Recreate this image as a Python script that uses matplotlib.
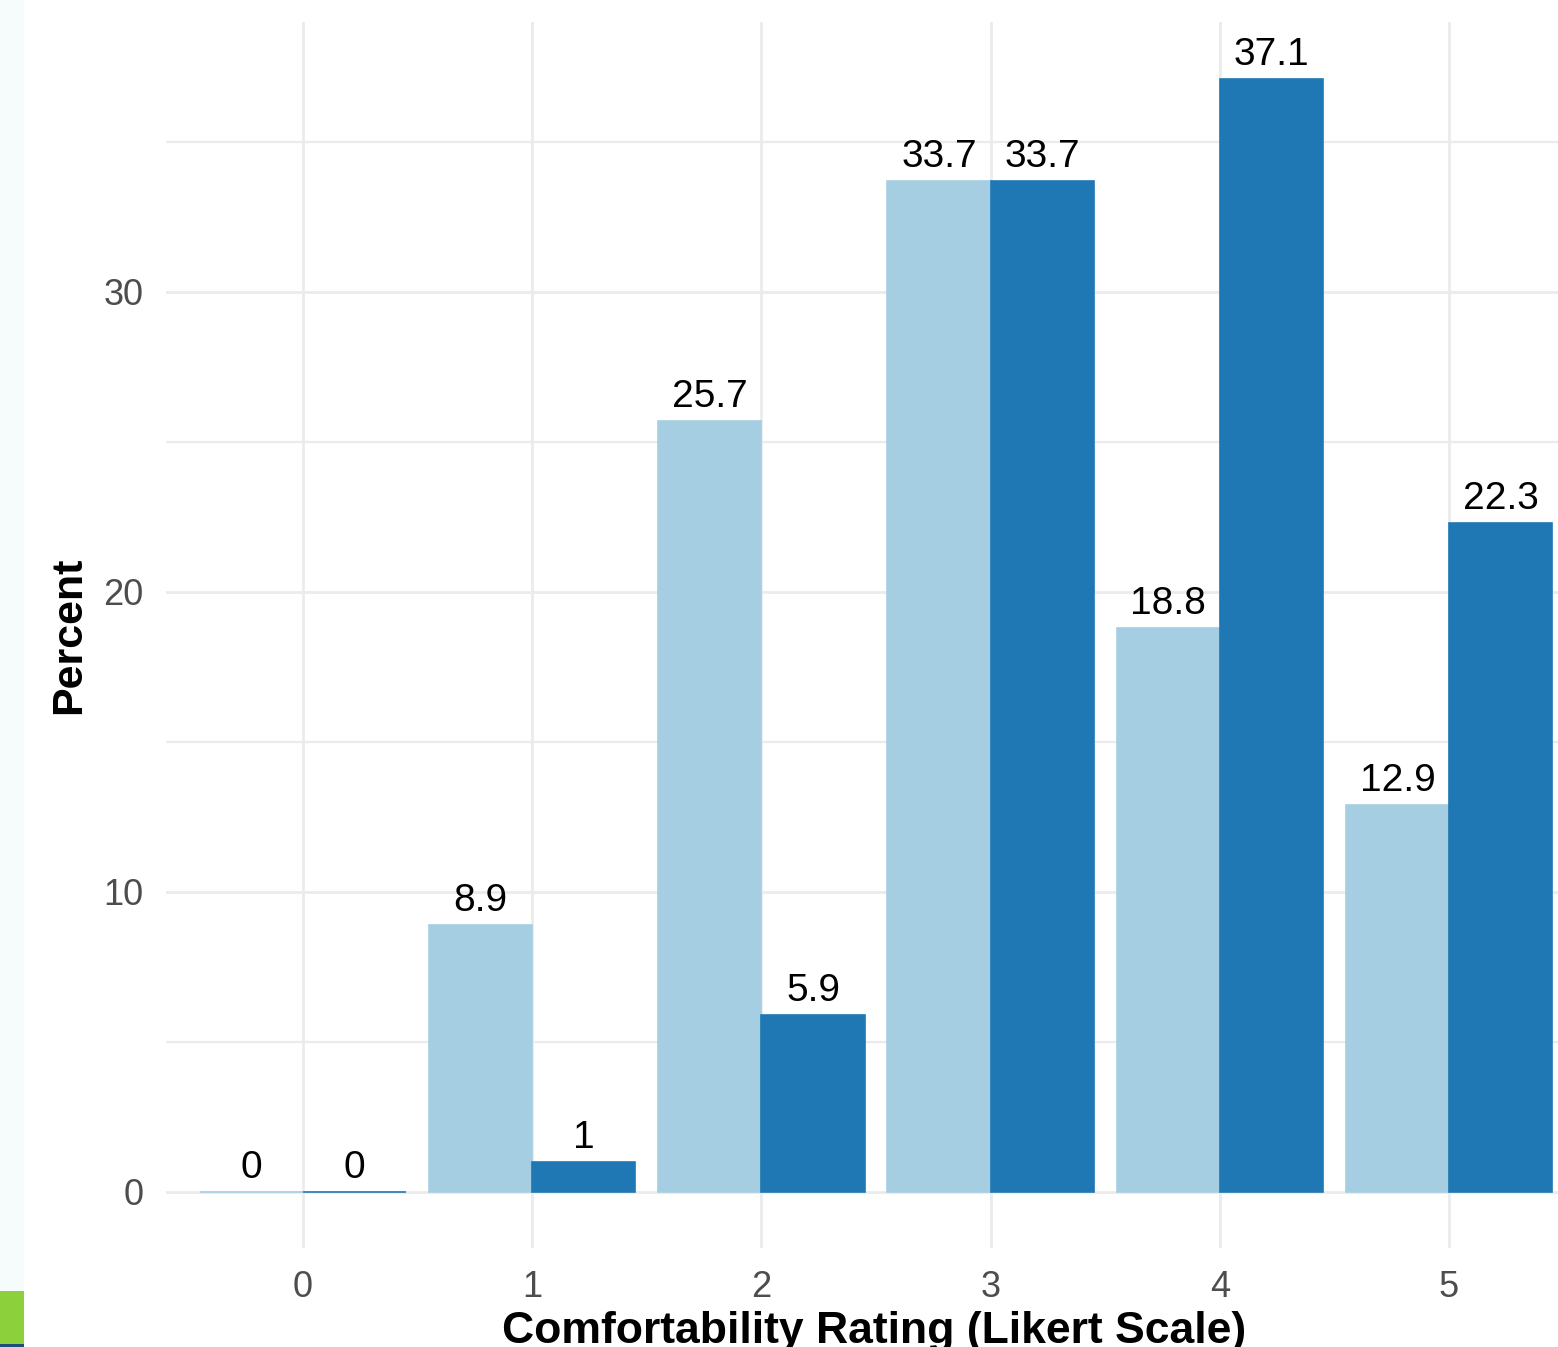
import matplotlib
matplotlib.use("Agg")
import matplotlib.pyplot as plt
from matplotlib.patches import Rectangle
import numpy as np

plt.rcParams['font.family'] = ['Liberation Sans', 'DejaVu Sans']

ratings = [0, 1, 2, 3, 4, 5]
series_a = [0, 8.9, 25.7, 33.7, 18.8, 12.9]
series_b = [0, 1, 5.9, 33.7, 37.1, 22.3]
labels_a = ["0", "8.9", "25.7", "33.7", "18.8", "12.9"]
labels_b = ["0", "1", "5.9", "33.7", "37.1", "22.3"]
yticks = [0, 10, 20, 30]
xlabel = "Comfortability Rating (Likert Scale)"
ylabel = "Percent"

color_a = "#A6CEE3"
color_b = "#1F78B4"
grid_c = "#EBEBEB"

W, H = 1558, 1347
fig = plt.figure(figsize=(W / 100, H / 100), dpi=100)
fig.patch.set_facecolor("white")

# left light strip and bottom-left artefacts
fig.patches.append(Rectangle((0, 0), 24 / W, 1, transform=fig.transFigure,
                             facecolor="#F6FCFC", edgecolor="none", zorder=0))
fig.patches.append(Rectangle((0, 2 / H), 24 / W, 54 / H, transform=fig.transFigure,
                             facecolor="#8CD13C", edgecolor="none", zorder=1))
fig.patches.append(Rectangle((0, 0), 24 / W, 3 / H, transform=fig.transFigure,
                             facecolor="#1E4E79", edgecolor="none", zorder=1))

left_px, right_px = 165.5, 1586.5
top_px, bot_px = 22, 1248
ax = fig.add_axes([left_px / W, (H - bot_px) / H, (right_px - left_px) / W, (bot_px - top_px) / H])
ax.set_facecolor("white")
ax.set_xlim(-0.6, 5.6)
ax.set_ylim(-1.867, 39.0)

x = np.array(ratings, dtype=float)
w = 0.45
ax.bar(x - w / 2, series_a, width=w, color=color_a, edgecolor=color_a, linewidth=1.2, zorder=3)
ax.bar(x + w / 2, series_b, width=w, color=color_b, edgecolor=color_b, linewidth=1.2, zorder=3)

for xi, v, lab in zip(x - w / 2, series_a, labels_a):
    ax.annotate(lab, (xi, v), xytext=(0, 10), textcoords="offset points",
                ha="center", va="baseline", fontsize=28, color="black", zorder=4)
for xi, v, lab in zip(x + w / 2, series_b, labels_b):
    ax.annotate(lab, (xi, v), xytext=(0, 10), textcoords="offset points",
                ha="center", va="baseline", fontsize=28, color="black", zorder=4)

ax.set_xticks(ratings)
ax.set_xticklabels([str(r) for r in ratings])
ax.set_yticks(yticks)
ax.set_yticks([5, 15, 25, 35], minor=True)
ax.grid(True, which="major", color=grid_c, linewidth=2.0, zorder=0)
ax.grid(True, which="minor", axis="y", color=grid_c, linewidth=1.6, zorder=0)
ax.set_axisbelow(True)
for s in ax.spines.values():
    s.set_visible(False)
ax.tick_params(axis="both", which="both", length=0, labelsize=26, colors="#4D4D4D")
ax.tick_params(axis="y", pad=16)
ax.tick_params(axis="x", pad=16)

fig.text(874 / W, 4 / H, xlabel, ha="center", va="baseline", fontsize=32,
         fontweight="bold", color="black")
fig.text(69 / W, 1 - 635 / H, ylabel, ha="center", va="center", rotation=90,
         fontsize=31, fontweight="bold", color="black")

fig.savefig("out.png", dpi=100)
